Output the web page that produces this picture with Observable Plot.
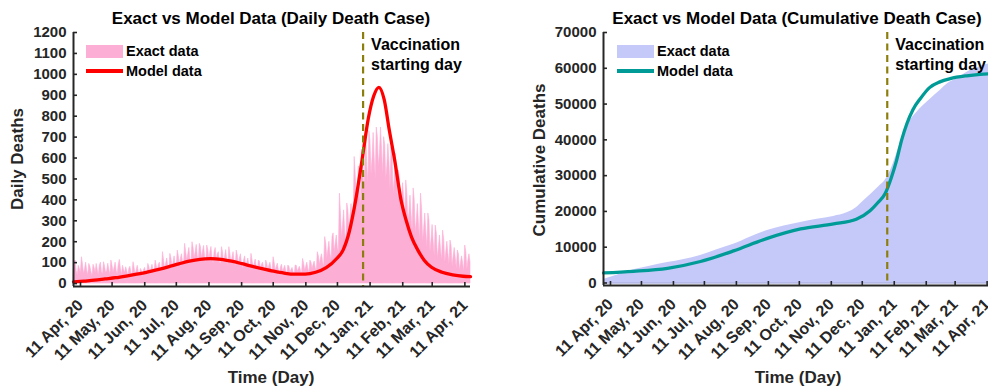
<!DOCTYPE html>
<html>
<head>
<meta charset="utf-8">
<script src="https://cdn.jsdelivr.net/npm/d3@7"></script>
<script src="https://cdn.jsdelivr.net/npm/@observablehq/plot@0.6"></script>
<style>
  html, body { margin: 0; padding: 0; background: #fff; overflow: hidden; }
  #fig { position: relative; width: 988px; height: 391px; overflow: hidden;
         font-family: "Liberation Sans", Arial, sans-serif; font-weight: bold; color: #262626; }
  .panel { position: absolute; top: 0; }
  .title { position: absolute; font-size: 17px; color: #000; white-space: nowrap; transform: translateX(-50%); line-height: 1; }
  .xlab { position: absolute; font-size: 17px; color: #262626; white-space: nowrap; transform: translate(-50%, -50%); line-height: 1; }
  .ylab { position: absolute; font-size: 17px; color: #262626; white-space: nowrap; transform: translate(-50%, -50%) rotate(-90deg); line-height: 1; }
  .legend { position: absolute; font-size: 14.5px; color: #000; }
  .legend .row { display: flex; align-items: center; height: 20px; }
  .legend .sw { width: 37px; height: 13px; margin-right: 3px; }
  .legend .ln { width: 37px; height: 3.5px; margin-right: 3px; }
</style>
</head>
<body>
<div id="fig">
  <div class="title" style="left:271px; top:10px;">Exact vs Model Data (Daily Death Case)</div>
  <div class="title" style="left:797px; top:10px;">Exact vs Model Data (Cumulative Death Case)</div>
  <div class="ylab" style="left:17px; top:159px;">Daily Deaths</div>
  <div class="ylab" style="left:539px; top:160px;">Cumulative Deaths</div>
  <div class="xlab" style="left:271px; top:377px;">Time (Day)</div>
  <div class="xlab" style="left:798px; top:377px;">Time (Day)</div>
  <div class="legend" style="left:86px; top:41px;">
    <div class="row"><div class="sw" id="swDaily"></div>Exact data</div>
    <div class="row"><div class="ln" id="lnDaily"></div>Model data</div>
  </div>
  <div class="legend" style="left:617px; top:41px;">
    <div class="row"><div class="sw" id="swCum"></div>Exact data</div>
    <div class="row"><div class="ln" id="lnCum"></div>Model data</div>
  </div>
</div>
<script>
// ---- data -------------------------------------------------------------
const firstDay = "2020-04-11";
const lastDay = "2021-04-23";
const vaccinationDay = "2021-01-11";

const tickDates = [
  "2020-04-11", "2020-05-11", "2020-06-11", "2020-07-11", "2020-08-11",
  "2020-09-11", "2020-10-11", "2020-11-11", "2020-12-11", "2021-01-11",
  "2021-02-11", "2021-03-11", "2021-04-11"
];

const dailyTicks = [0, 100, 200, 300, 400, 500, 600, 700, 800, 900, 1000, 1100, 1200];
const cumulativeTicks = [0, 10000, 20000, 30000, 40000, 50000, 60000, 70000];

// reported daily deaths, one value per day starting 11 Apr 2020
const dailyExact = [
  55, 95, 110, 60, 40, 85, 70,
  50, 126, 90, 45, 70, 100, 60,
  40, 94, 80, 55, 35, 90, 75,
  50, 94, 65, 40, 85, 100, 55,
  45, 102, 80, 50, 60, 95, 65,
  40, 110, 85, 50, 75, 100, 60,
  45, 90, 113, 70, 40, 85, 65,
  50, 78, 60, 35, 70, 80, 50,
  45, 102, 75, 40, 65, 85, 55,
  40, 70, 60, 30, 65, 75, 50,
  45, 94, 80, 50, 70, 90, 60,
  55, 110, 85, 60, 90, 100, 70,
  60, 150, 110, 70, 95, 120, 80,
  70, 142, 120, 80, 100, 130, 90,
  80, 158, 130, 90, 120, 140, 100,
  90, 190, 150, 110, 140, 170, 120,
  100, 198, 170, 120, 150, 185, 130,
  110, 190, 175, 120, 155, 180, 125,
  100, 182, 160, 110, 150, 175, 120,
  95, 150, 170, 110, 140, 150, 105,
  90, 174, 150, 100, 130, 160, 110,
  85, 174, 140, 95, 125, 150, 100,
  80, 158, 135, 90, 120, 140, 95,
  70, 110, 130, 80, 100, 120, 85,
  65, 142, 110, 75, 95, 115, 80,
  60, 110, 105, 70, 90, 100, 75,
  55, 110, 95, 65, 85, 100, 70,
  50, 126, 100, 60, 80, 95, 65,
  45, 78, 90, 55, 70, 85, 60,
  40, 86, 80, 50, 65, 75, 55,
  40, 86, 85, 55, 70, 80, 60,
  45, 118, 95, 60, 80, 100, 70,
  50, 110, 100, 70, 90, 105, 75,
  60, 150, 130, 90, 120, 140, 100,
  80, 222, 190, 120, 160, 200, 140,
  110, 222, 240, 150, 190, 230, 170,
  150, 430, 330, 220, 280, 350, 240,
  200, 383, 350, 260, 310, 380, 290,
  280, 605, 520, 380, 450, 560, 420,
  380, 640, 600, 450, 520, 700, 560,
  480, 730, 680, 520, 600, 720, 600,
  500, 746, 700, 560, 620, 746, 640,
  520, 700, 660, 500, 560, 667, 580,
  450, 650, 600, 430, 500, 620, 520,
  380, 540, 500, 340, 400, 480, 400,
  300, 493, 430, 280, 340, 420, 330,
  250, 455, 400, 240, 300, 380, 290,
  210, 430, 360, 200, 260, 335, 250,
  170, 335, 300, 150, 210, 280, 200,
  130, 277, 240, 120, 170, 230, 160,
  110, 253, 210, 100, 150, 200, 140,
  90, 206, 180, 80, 130, 170, 120,
  70, 158, 140, 60, 100, 130, 95,
  55, 182, 150, 65, 110, 140, 100
];

// fitted model, daily deaths (day offset from 11 Apr 2020)
const modelDailyDays = [0, 10, 20, 30, 40, 50, 60, 70, 80, 90, 100, 110, 120, 130, 140, 150, 160, 170,
  180, 190, 200, 210, 220, 230, 240, 250, 256, 262, 268, 274, 280, 285, 290, 295, 300, 305, 311, 316,
  321, 327, 333, 340, 350, 360, 370, 377];
const modelDailyValues = [8, 12, 16, 22, 28, 36, 45, 55, 67, 80, 94, 107, 116, 119, 116, 107, 95, 82,
  70, 59, 50, 45, 45, 54, 76, 120, 160, 250, 400, 590, 790, 895, 938, 880, 730, 590, 400, 300,
  222, 160, 112, 78, 54, 42, 35, 33];

// reported cumulative deaths
const cumExactDays = [0, 15, 29, 45, 62, 78, 94, 110, 126, 142, 158, 175, 191, 207, 223, 236, 245, 252,
  260, 267, 273, 279, 284, 290, 297, 304, 310, 318, 326, 334, 342, 350, 358, 366, 377];
const cumExactValues = [1000, 2400, 3700, 4700, 5700, 6600, 7700, 9300, 10800, 12800, 14600, 15900,
  16900, 17800, 18600, 19600, 21000, 22900, 25000, 27000, 28700, 32000, 36000, 41000, 45300, 47800,
  49600, 51700, 53700, 55800, 57000, 58500, 59700, 60600, 61500];

// fitted model, cumulative deaths
const cumModelDays = [0, 29, 62, 94, 126, 158, 191, 223, 245, 258, 266, 273, 279, 284, 289, 294, 300,
  307, 316, 326, 336, 352, 365, 377];
const cumModelValues = [2800, 3250, 4100, 6000, 8960, 12400, 15100, 16500, 17800, 20100, 22500, 25000,
  29500, 34200, 40000, 44500, 48500, 51500, 54600, 56200, 57100, 57900, 58300, 58500];

// ---- styles -------------------------------------------------------------
const pink = "#fdaed5";
const red = "#ff0000";
const lavender = "#c5c9f9";
const teal = "#009b96";
const olive = "#8c7e0e";
const ink = "#262626";

document.getElementById("swDaily").style.background = pink;
document.getElementById("lnDaily").style.background = red;
document.getElementById("swCum").style.background = lavender;
document.getElementById("lnCum").style.background = teal;

// ---- helpers ------------------------------------------------------------
const parse = d3.utcParse("%Y-%m-%d");
const t0 = parse(firstDay);
const dayDate = (i) => d3.utcDay.offset(t0, i);
const fmt = d3.utcFormat("%d %b, %y");

const daily = dailyExact.map((v, i) => ({date: dayDate(i), value: v}));
const modelDaily = modelDailyDays.map((d, i) => ({date: dayDate(d), value: modelDailyValues[i]}));
const cumExact = cumExactDays.map((d, i) => ({date: dayDate(d), value: cumExactValues[i]}));
const cumModel = cumModelDays.map((d, i) => ({date: dayDate(d), value: cumModelValues[i]}));
const ticks = tickDates.map(parse);
const vacc = parse(vaccinationDay);
const xDomain = [t0, parse(lastDay)];

const baseStyle = {
  fontFamily: '"Liberation Sans", Arial, sans-serif',
  fontWeight: "bold",
  fontSize: "15px",
  color: ink,
  background: "transparent",
  overflow: "visible"
};

function panel({width, marginLeft, marginRight, marginBottom, yDomain, yTicks, marks}) {
  return Plot.plot({
    width, height: 391,
    marginLeft, marginRight, marginTop: 32, marginBottom,
    style: baseStyle,
    x: {type: "utc", domain: xDomain},
    y: {domain: yDomain},
    marks: [
      ...marks,
      Plot.ruleX([vacc], {stroke: olive, strokeWidth: 2.2, strokeDasharray: "7,4.5"}),
      Plot.text([vacc], {
        x: (d) => d, frameAnchor: "top", text: () => "Vaccination\nstarting day",
        textAnchor: "start", lineAnchor: "top", dx: 8, dy: 3, lineHeight: 1.25,
        fontSize: 16, fill: "#000"
      }),
      Plot.ruleX([xDomain[0]], {stroke: ink, strokeWidth: 2}),
      Plot.ruleY([yDomain[0]], {stroke: ink, strokeWidth: 2}),
      Plot.axisY({
        ticks: yTicks, tickFormat: (d) => String(d), tickSize: -4, tickPadding: 11,
        strokeWidth: 1.6, label: null, fill: ink
      }),
      Plot.axisX({
        ticks, tickFormat: fmt, tickRotate: -45, tickSize: -4, tickPadding: 20, dx: 7,
        fontSize: 16, strokeWidth: 1.6, label: null, fill: ink
      })
    ]
  });
}

const left = panel({
  width: 494, marginLeft: 73, marginRight: 24, marginBottom: 105,
  yDomain: [-14, 1200], yTicks: dailyTicks,
  marks: [
    Plot.areaY(daily, {x: "date", y: "value", fill: pink, stroke: pink, strokeWidth: 0.6}),
    Plot.line(modelDaily, {x: "date", y: "value", stroke: red, strokeWidth: 3.3, curve: "monotone-x"})
  ]
});
left.classList.add("panel");
left.style.left = "0px";

const right = panel({
  width: 510, marginLeft: 109, marginRight: 12, marginBottom: 106,
  yDomain: [-700, 70000], yTicks: cumulativeTicks,
  marks: [
    Plot.areaY(cumExact, {x: "date", y: "value", fill: lavender, curve: "monotone-x"}),
    Plot.ruleY([0], {stroke: "#8d92d6", strokeWidth: 1}),
    Plot.line(cumModel, {x: "date", y: "value", stroke: teal, strokeWidth: 3.3, curve: "monotone-x"})
  ]
});
right.classList.add("panel");
right.style.left = "494px";

const fig = document.getElementById("fig");
fig.insertBefore(right, fig.firstChild);
fig.insertBefore(left, fig.firstChild);
</script>
</body>
</html>
